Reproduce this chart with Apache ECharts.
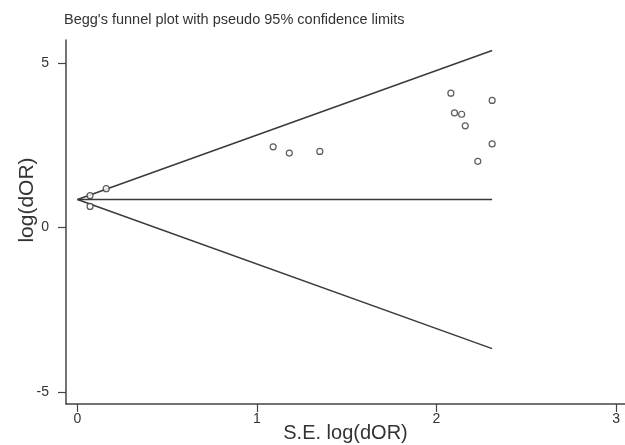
<!DOCTYPE html>
<html>
<head>
<meta charset="utf-8">
<script src="https://cdn.jsdelivr.net/npm/echarts@6/dist/echarts.min.js"></script>
<style>
html,body{margin:0;padding:0;background:#fff;}
#c{width:625px;height:445px;}
</style>
</head>
<body>
<div id="c"></div>
<script>
// Study points: standard error of log(dOR) and log(dOR)
var studySE  = [0.07, 0.16, 0.07, 1.09, 1.18, 1.35, 2.08, 2.10, 2.14, 2.16, 2.31, 2.31, 2.23];
var studyLog = [0.97, 1.18, 0.64, 2.45, 2.26, 2.31, 4.08, 3.48, 3.44, 3.09, 3.86, 2.54, 2.01];
// Funnel lines (endpoints at SE = 0 and SE max)
var funnelSE    = [0, 2.31];
var pooledLine  = [0.85, 0.85];
var upperLimit  = [0.85, 5.38];
var lowerLimit  = [0.85, -3.68];
// Tick labels
var xTicks = [0, 1, 2, 3];
var yTicks = [-5, 0, 5];

function pairs(xs, ys){ return xs.map(function(x,i){ return [x, ys[i]]; }); }

var chart = echarts.init(document.getElementById('c'), null, {renderer:'canvas'});
var lineStyle = {color:'#3a3a3a', width:1.5};
var axisColor = '#444';
chart.setOption({
  animation:false,
  backgroundColor:'#fff',
  title:{
    text:"Begg's funnel plot with pseudo 95% confidence limits",
    left:59, top:7,
    textStyle:{fontFamily:'Liberation Sans', fontSize:14.5, fontWeight:'normal', color:'#333'}
  },
  grid:{left:66, right:0, top:40, bottom:41, containLabel:false, outerBoundsMode:'none'},
  xAxis:{
    type:'value', min:-0.064, max:3.05,
    name:'S.E. log(dOR)', nameLocation:'middle', nameGap:19, nameMoveOverlap:false,
    nameTextStyle:{fontFamily:'Liberation Sans', fontSize:20, color:'#333'},
    axisLine:{show:true, onZero:false, lineStyle:{color:axisColor, width:1.5}},
    axisTick:{show:true, length:8, lineStyle:{color:axisColor, width:1.2}, customValues:xTicks},
    axisLabel:{customValues:xTicks, fontFamily:'Liberation Sans', fontSize:14, color:'#333', margin:8},
    splitLine:{show:false}
  },
  yAxis:{
    type:'value', min:-5.364, max:5.697,
    name:'log(dOR)', nameLocation:'middle', nameGap:28, nameRotate:90, nameMoveOverlap:false,
    nameTextStyle:{fontFamily:'Liberation Sans', fontSize:21, color:'#333', padding:[0,0,0,44]},
    axisLine:{show:true, onZero:false, lineStyle:{color:axisColor, width:1.5}},
    axisTick:{show:true, length:8, lineStyle:{color:axisColor, width:1.2}, customValues:yTicks},
    axisLabel:{customValues:yTicks, fontFamily:'Liberation Sans', fontSize:14, color:'#333', margin:17},
    splitLine:{show:false}
  },
  series:[
    {type:'line', data:pairs(funnelSE, pooledLine), symbol:'none', lineStyle:lineStyle, z:2},
    {type:'line', data:pairs(funnelSE, upperLimit), symbol:'none', lineStyle:lineStyle, z:2},
    {type:'line', data:pairs(funnelSE, lowerLimit), symbol:'none', lineStyle:lineStyle, z:2},
    {type:'scatter', data:pairs(studySE, studyLog), symbol:'circle', symbolSize:6,
     itemStyle:{color:'#fff', borderColor:'#333', borderWidth:1.2}, z:3}
  ]
});
</script>
</body>
</html>
